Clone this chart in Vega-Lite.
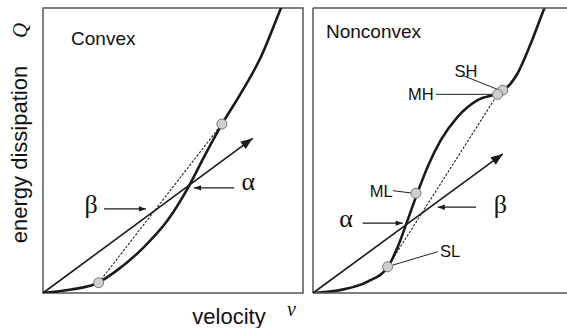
{
  "$schema": "https://vega.github.io/schema/vega-lite/v6.json",
  "padding": {"left": 7, "top": 7, "right": 0, "bottom": 0},
  "spacing": 10,
  "bounds": "flush",
  "background": "white",
  "config": {
    "view": {"stroke": "#555", "strokeWidth": 1.5},
    "axis": {"grid": false, "domain": false, "ticks": false, "labels": false, "titleFont": "Liberation Sans", "titleFontSize": 22, "titleFontWeight": "normal", "titleColor": "#111", "titlePadding": 0},
    "text": {"color": "#111"}
  },
  "datasets": {
    "convexCurve": [
      {"u": 0, "w": 0}, {"u": 0.108, "w": 0.012}, {"u": 0.212, "w": 0.036}, {"u": 0.287, "w": 0.081},
      {"u": 0.388, "w": 0.161}, {"u": 0.48, "w": 0.256}, {"u": 0.557, "w": 0.368}, {"u": 0.619, "w": 0.477},
      {"u": 0.69, "w": 0.595}, {"u": 0.762, "w": 0.702}, {"u": 0.838, "w": 0.828}, {"u": 0.915, "w": 0.999}, {"u": 0.92, "w": 1.01}
    ],
    "convexArrow": [{"u": 0, "w": 0}, {"u": 0.8065, "w": 0.5428}],
    "convexChord": [{"u": 0.214, "w": 0.036}, {"u": 0.688, "w": 0.593}],
    "convexLabelArrows": [
      {"label": "β", "u": 0.235, "w": 0.295, "u2": 0.396, "w2": 0.295},
      {"label": "α", "u": 0.735, "w": 0.369, "u2": 0.581, "w2": 0.369}
    ],
    "convexTexts": [
      {"t": "β", "u": 0.185, "w": 0.282},
      {"t": "α", "u": 0.79, "w": 0.361}
    ],
    "nonconvexCurve": [
      {"u": 0, "w": 0}, {"u": 0.108, "w": 0.011}, {"u": 0.21, "w": 0.04}, {"u": 0.288, "w": 0.091},
      {"u": 0.326, "w": 0.162}, {"u": 0.364, "w": 0.256}, {"u": 0.4, "w": 0.347}, {"u": 0.441, "w": 0.443},
      {"u": 0.492, "w": 0.537}, {"u": 0.557, "w": 0.619}, {"u": 0.633, "w": 0.677}, {"u": 0.71, "w": 0.7},
      {"u": 0.73, "w": 0.709}, {"u": 0.787, "w": 0.771}, {"u": 0.838, "w": 0.876}, {"u": 0.89, "w": 0.999}, {"u": 0.895, "w": 1.01}
    ],
    "nonconvexArrow": [{"u": 0, "w": 0}, {"u": 0.73, "w": 0.488}],
    "nonconvexChord": [{"u": 0.287, "w": 0.092}, {"u": 0.71, "w": 0.697}],
    "nonconvexLabelArrows": [
      {"label": "α", "u": 0.191, "w": 0.245, "u2": 0.345, "w2": 0.245},
      {"label": "β", "u": 0.627, "w": 0.301, "u2": 0.48, "w2": 0.301}
    ],
    "nonconvexLeaders": [
      {"label": "SH", "u": 0.582, "w": 0.761, "u2": 0.717, "w2": 0.712},
      {"label": "MH", "u": 0.473, "w": 0.697, "u2": 0.704, "w2": 0.697},
      {"label": "ML", "u": 0.307, "w": 0.359, "u2": 0.387, "w2": 0.35},
      {"label": "SL", "u": 0.48, "w": 0.145, "u2": 0.307, "w2": 0.098}
    ],
    "nonconvexPoints": [
      {"label": "SL", "u": 0.287, "w": 0.092},
      {"label": "ML", "u": 0.396, "w": 0.35},
      {"label": "SH", "u": 0.73, "w": 0.712},
      {"label": "MH", "u": 0.71, "w": 0.697}
    ],
    "nonconvexStateTexts": [
      {"t": "SH", "u": 0.588, "w": 0.758},
      {"t": "MH", "u": 0.415, "w": 0.677},
      {"t": "ML", "u": 0.262, "w": 0.337},
      {"t": "SL", "u": 0.527, "w": 0.126}
    ],
    "nonconvexGreek": [
      {"t": "α", "u": 0.127, "w": 0.23},
      {"t": "β", "u": 0.721, "w": 0.282}
    ]
  },
  "hconcat": [
    {
      "width": 260,
      "height": 285,
      "layer": [
        {
          "data": {"name": "convexCurve"},
          "mark": {"type": "line", "color": "#1a1a1a", "strokeWidth": 2.6, "interpolate": "monotone", "clip": true},
          "encoding": {
            "x": {"field": "u", "type": "quantitative", "scale": {"domain": [0, 1], "nice": false, "zero": false},
                  "axis": {"title": "velocity", "titleX": 185.5, "titleY": 30, "titleAlign": "center", "titleBaseline": "alphabetic"}},
            "y": {"field": "w", "type": "quantitative", "scale": {"domain": [0, 1], "nice": false, "zero": false},
                  "axis": {"title": "energy dissipation", "titleX": -17, "titleY": 146, "titleAngle": 270, "titleAlign": "center", "titleBaseline": "alphabetic"}}
          }
        },
        {
          "data": {"name": "convexArrow"},
          "mark": {"type": "line", "color": "#1a1a1a", "strokeWidth": 1.6},
          "encoding": {"x": {"field": "u", "type": "quantitative"}, "y": {"field": "w", "type": "quantitative"}}
        },
        {
          "data": {"name": "convexArrow"},
          "transform": [{"filter": "datum.u > 0"}],
          "mark": {"type": "point", "shape": "M0,0L-1,-0.38L-1,0.38Z", "size": 576, "filled": true, "opacity": 1, "color": "#1a1a1a", "angle": -36.4},
          "encoding": {"x": {"field": "u", "type": "quantitative"}, "y": {"field": "w", "type": "quantitative"}}
        },
        {
          "data": {"name": "convexChord"},
          "mark": {"type": "line", "color": "#222", "strokeWidth": 1.1, "strokeDash": [2.5, 1.5]},
          "encoding": {"x": {"field": "u", "type": "quantitative"}, "y": {"field": "w", "type": "quantitative"}}
        },
        {
          "data": {"name": "convexLabelArrows"},
          "mark": {"type": "rule", "color": "#1a1a1a", "strokeWidth": 1.3},
          "encoding": {"x": {"field": "u", "type": "quantitative"}, "y": {"field": "w", "type": "quantitative"},
                       "x2": {"field": "u2"}, "y2": {"field": "w2"}}
        },
        {
          "data": {"name": "convexLabelArrows"},
          "transform": [{"filter": "datum.label == 'β'"}],
          "mark": {"type": "point", "shape": "M0,0L-1,-0.38L-1,0.38Z", "size": 196, "filled": true, "opacity": 1, "color": "#1a1a1a", "angle": 0},
          "encoding": {"x": {"field": "u2", "type": "quantitative"}, "y": {"field": "w2", "type": "quantitative"}}
        },
        {
          "data": {"name": "convexLabelArrows"},
          "transform": [{"filter": "datum.label == 'α'"}],
          "mark": {"type": "point", "shape": "M0,0L-1,-0.38L-1,0.38Z", "size": 196, "filled": true, "opacity": 1, "color": "#1a1a1a", "angle": 180},
          "encoding": {"x": {"field": "u2", "type": "quantitative"}, "y": {"field": "w2", "type": "quantitative"}}
        },
        {
          "data": {"name": "convexChord"},
          "mark": {"type": "point", "shape": "circle", "size": 100, "filled": true, "opacity": 1, "fill": "#cfcfcf", "stroke": "#777", "strokeWidth": 1},
          "encoding": {"x": {"field": "u", "type": "quantitative"}, "y": {"field": "w", "type": "quantitative"}}
        },
        {
          "data": {"name": "convexTexts"},
          "mark": {"type": "text", "font": "Liberation Serif", "fontSize": 26, "align": "center", "baseline": "alphabetic"},
          "encoding": {"x": {"field": "u", "type": "quantitative"}, "y": {"field": "w", "type": "quantitative"}, "text": {"field": "t"}}
        },
        {
          "data": {"values": [{"t": "Convex", "u": 0.108, "w": 0.87}]},
          "mark": {"type": "text", "font": "Liberation Sans", "fontSize": 19, "align": "left", "baseline": "alphabetic"},
          "encoding": {"x": {"field": "u", "type": "quantitative"}, "y": {"field": "w", "type": "quantitative"}, "text": {"field": "t"}}
        }
      ]
    },
    {
      "width": 255,
      "height": 285,
      "view": {"stroke": null},
      "layer": [
        {
          "data": {"name": "nonconvexCurve"},
          "mark": {"type": "line", "color": "#1a1a1a", "strokeWidth": 2.6, "interpolate": "monotone", "clip": true},
          "encoding": {
            "x": {"field": "u", "type": "quantitative", "scale": {"domain": [0, 0.9808], "nice": false, "zero": false},
                  "axis": {"title": "v", "titleFont": "Liberation Serif", "titleFontStyle": "italic", "titleFontSize": 20, "titleX": -22, "titleY": 22, "titleAlign": "center", "titleBaseline": "alphabetic"}},
            "y": {"field": "w", "type": "quantitative", "scale": {"domain": [0, 1], "nice": false, "zero": false},
                  "axis": {"title": "Q", "titleFont": "Liberation Serif", "titleFontStyle": "italic", "titleFontSize": 21, "titleX": -287, "titleY": 22, "titleAngle": 270, "titleAlign": "center", "titleBaseline": "alphabetic"}}
          }
        },
        {
          "data": {"values": [{"edge": "top"}]},
          "mark": {"type": "rule", "color": "#555", "strokeWidth": 1.5},
          "encoding": {"y": {"datum": 1, "type": "quantitative"}}
        },
        {
          "data": {"values": [{"edge": "bottom"}]},
          "mark": {"type": "rule", "color": "#555", "strokeWidth": 1.5},
          "encoding": {"y": {"datum": 0, "type": "quantitative"}}
        },
        {
          "data": {"values": [{"edge": "left"}]},
          "mark": {"type": "rule", "color": "#555", "strokeWidth": 1.5},
          "encoding": {"x": {"datum": 0, "type": "quantitative"}}
        },
        {
          "data": {"name": "nonconvexArrow"},
          "mark": {"type": "line", "color": "#1a1a1a", "strokeWidth": 1.6},
          "encoding": {"x": {"field": "u", "type": "quantitative"}, "y": {"field": "w", "type": "quantitative"}}
        },
        {
          "data": {"name": "nonconvexArrow"},
          "transform": [{"filter": "datum.u > 0"}],
          "mark": {"type": "point", "shape": "M0,0L-1,-0.38L-1,0.38Z", "size": 576, "filled": true, "opacity": 1, "color": "#1a1a1a", "angle": -36.2},
          "encoding": {"x": {"field": "u", "type": "quantitative"}, "y": {"field": "w", "type": "quantitative"}}
        },
        {
          "data": {"name": "nonconvexChord"},
          "mark": {"type": "line", "color": "#222", "strokeWidth": 1.1, "strokeDash": [2.5, 1.5]},
          "encoding": {"x": {"field": "u", "type": "quantitative"}, "y": {"field": "w", "type": "quantitative"}}
        },
        {
          "data": {"name": "nonconvexLabelArrows"},
          "mark": {"type": "rule", "color": "#1a1a1a", "strokeWidth": 1.3},
          "encoding": {"x": {"field": "u", "type": "quantitative"}, "y": {"field": "w", "type": "quantitative"},
                       "x2": {"field": "u2"}, "y2": {"field": "w2"}}
        },
        {
          "data": {"name": "nonconvexLabelArrows"},
          "transform": [{"filter": "datum.label == 'α'"}],
          "mark": {"type": "point", "shape": "M0,0L-1,-0.38L-1,0.38Z", "size": 196, "filled": true, "opacity": 1, "color": "#1a1a1a", "angle": 0},
          "encoding": {"x": {"field": "u2", "type": "quantitative"}, "y": {"field": "w2", "type": "quantitative"}}
        },
        {
          "data": {"name": "nonconvexLabelArrows"},
          "transform": [{"filter": "datum.label == 'β'"}],
          "mark": {"type": "point", "shape": "M0,0L-1,-0.38L-1,0.38Z", "size": 196, "filled": true, "opacity": 1, "color": "#1a1a1a", "angle": 180},
          "encoding": {"x": {"field": "u2", "type": "quantitative"}, "y": {"field": "w2", "type": "quantitative"}}
        },
        {
          "data": {"name": "nonconvexLeaders"},
          "mark": {"type": "rule", "color": "#222", "strokeWidth": 1},
          "encoding": {"x": {"field": "u", "type": "quantitative"}, "y": {"field": "w", "type": "quantitative"},
                       "x2": {"field": "u2"}, "y2": {"field": "w2"}}
        },
        {
          "data": {"name": "nonconvexPoints"},
          "mark": {"type": "point", "shape": "circle", "size": 100, "filled": true, "opacity": 1, "fill": "#cfcfcf", "stroke": "#777", "strokeWidth": 1},
          "encoding": {"x": {"field": "u", "type": "quantitative"}, "y": {"field": "w", "type": "quantitative"}}
        },
        {
          "data": {"name": "nonconvexStateTexts"},
          "mark": {"type": "text", "font": "Liberation Sans", "fontSize": 16.5, "align": "center", "baseline": "alphabetic"},
          "encoding": {"x": {"field": "u", "type": "quantitative"}, "y": {"field": "w", "type": "quantitative"}, "text": {"field": "t"}}
        },
        {
          "data": {"name": "nonconvexGreek"},
          "mark": {"type": "text", "font": "Liberation Serif", "fontSize": 26, "align": "center", "baseline": "alphabetic"},
          "encoding": {"x": {"field": "u", "type": "quantitative"}, "y": {"field": "w", "type": "quantitative"}, "text": {"field": "t"}}
        },
        {
          "data": {"values": [{"t": "Nonconvex", "u": 0.05, "w": 0.894}]},
          "mark": {"type": "text", "font": "Liberation Sans", "fontSize": 19, "align": "left", "baseline": "alphabetic"},
          "encoding": {"x": {"field": "u", "type": "quantitative"}, "y": {"field": "w", "type": "quantitative"}, "text": {"field": "t"}}
        }
      ]
    }
  ]
}
